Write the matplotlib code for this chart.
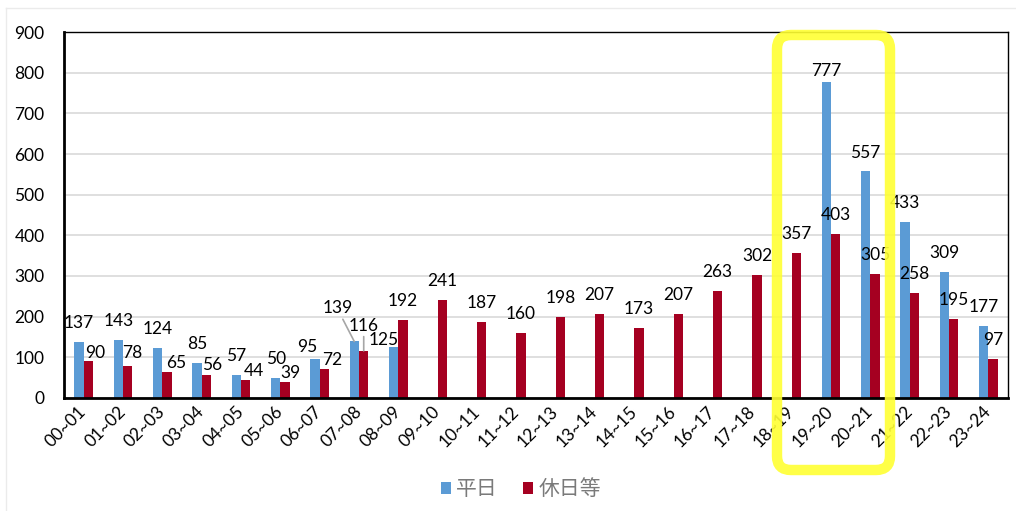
import numpy as np
import matplotlib
matplotlib.use("Agg")
import matplotlib.pyplot as plt
from matplotlib.patches import FancyBboxPatch
from matplotlib.lines import Line2D
from matplotlib.transforms import IdentityTransform

plt.rcParams['font.family'] = ['Lato', 'Noto Sans CJK JP', 'DejaVu Sans']

# ---- data ----
categories = ["00~01", "01~02", "02~03", "03~04", "04~05", "05~06", "06~07", "07~08",
              "08~09", "09~10", "10~11", "11~12", "12~13", "13~14", "14~15", "15~16",
              "16~17", "17~18", "18~19", "19~20", "20~21", "21~22", "22~23", "23~24"]
weekday = [137, 143, 124, 85, 57, 50, 95, 139, 125,
           None, None, None, None, None, None, None, None, None, None,
           777, 557, 433, 309, 177]
holiday = [90, 78, 65, 56, 44, 39, 72, 116, 192, 241, 187, 160, 198, 207, 173, 207,
           263, 302, 357, 403, 305, 258, 195, 97]
series_names = ["平日", "休日等"]
yticks = [0, 100, 200, 300, 400, 500, 600, 700, 800, 900]

# ---- style ----
blue = "#5B9BD5"
red = "#A50021"
W, H = 1016, 511
fig = plt.figure(figsize=(W / 100, H / 100), dpi=100)
fig.patch.set_facecolor("white")

# outer chart border (faint)
fig.add_artist(Line2D([6 / W, 6 / W], [0, 1 - 8 / H], transform=fig.transFigure,
                      color="#EBEBEB", lw=1))
fig.add_artist(Line2D([6 / W, 1], [1 - 8 / H, 1 - 8 / H], transform=fig.transFigure,
                      color="#EBEBEB", lw=1))

ax = fig.add_axes([64 / W, 1 - 398 / H, (1008 - 64) / W, (398 - 32) / H])
x = np.arange(len(categories))
bw = 0.24
wk = np.array([np.nan if v is None else v for v in weekday], dtype=float)
hd = np.array(holiday, dtype=float)
b1 = ax.bar(x - bw / 2, wk, bw, color=blue, label=series_names[0], zorder=3)
b2 = ax.bar(x + bw / 2, hd, bw, color=red, label=series_names[1], zorder=3)

fs = 12.5
ax.set_xlim(-0.5, len(categories) - 0.5)
ax.set_ylim(0, 900)
ax.set_yticks(yticks)
ax.yaxis.grid(True, color="#D9D9D9", lw=1.2, zorder=0)
ax.set_axisbelow(True)
ax.tick_params(axis="y", length=0, pad=14, labelsize=fs)
ax.tick_params(axis="x", length=0, pad=8, labelsize=fs)
ax.set_xticks(x)
ax.set_xticklabels(categories, rotation=45, ha="right", va="center",
                   rotation_mode="anchor")
for s in ["left", "bottom"]:
    ax.spines[s].set_linewidth(2)
    ax.spines[s].set_color("black")
for s in ["top", "right"]:
    ax.spines[s].set_linewidth(1)
    ax.spines[s].set_color("black")
ax.spines["bottom"].set_zorder(5)

# label offsets in pixels (dx, dy) relative to bar top centre
blue_off = {6: (-8, 12), 8: (-10, 7), 19: (0, 11), 20: (0, 18)}
red_off = {0: (7, 8), 1: (5, 13), 2: (9, 9), 3: (6, 10), 4: (8, 9), 5: (5, 9), 6: (8, 9)}
for i, v in enumerate(weekday):
    if v is None:
        continue
    xi = x[i] - bw / 2
    if i == 7:
        ax.annotate(str(v), xy=(xi, v), xytext=(-17, 33), textcoords="offset pixels",
                    ha="center", va="center", fontsize=fs, zorder=6,
                    arrowprops=dict(arrowstyle="-", color="#A6A6A6", lw=1.2,
                                    shrinkA=0, shrinkB=0))
        continue
    dx, dy = blue_off.get(i, (0, 19))
    ax.annotate(str(v), xy=(xi, v), xytext=(dx, dy), textcoords="offset pixels",
                ha="center", va="center", fontsize=fs, zorder=6)
for i, v in enumerate(holiday):
    xi = x[i] + bw / 2
    if i == 7:
        ax.annotate(str(v), xy=(xi, v), xytext=(0, 25), textcoords="offset pixels",
                    ha="center", va="center", fontsize=fs, zorder=6,
                    arrowprops=dict(arrowstyle="-", color="#A6A6A6", lw=1.2,
                                    shrinkA=0, shrinkB=0))
        continue
    dx, dy = red_off.get(i, (0, 19))
    ax.annotate(str(v), xy=(xi, v), xytext=(dx, dy), textcoords="offset pixels",
                ha="center", va="center", fontsize=fs, zorder=6)

# legend
leg = fig.legend(handles=[b1, b2], loc="center", bbox_to_anchor=(521 / W, 1 - 489 / H),
                 ncol=2, frameon=False, fontsize=15, handlelength=0.5, handleheight=0.5,
                 handletextpad=0.25, columnspacing=1.2, labelcolor="#7A7A7A")

# yellow highlight around 18~19 .. 20~21
fig.canvas.draw()
x0 = ax.transData.transform((17.5, 0))[0] + 5
x1 = ax.transData.transform((20.5, 0))[0]
y0 = 41
y1 = 476
box = FancyBboxPatch((x0, y0), x1 - x0, y1 - y0,
                     boxstyle="round,pad=0,rounding_size=14",
                     transform=IdentityTransform(), fill=False,
                     edgecolor="#FFFF33", lw=7.5, alpha=0.9, zorder=10)
fig.add_artist(box)

fig.savefig("out.png", dpi=100, facecolor="white")
